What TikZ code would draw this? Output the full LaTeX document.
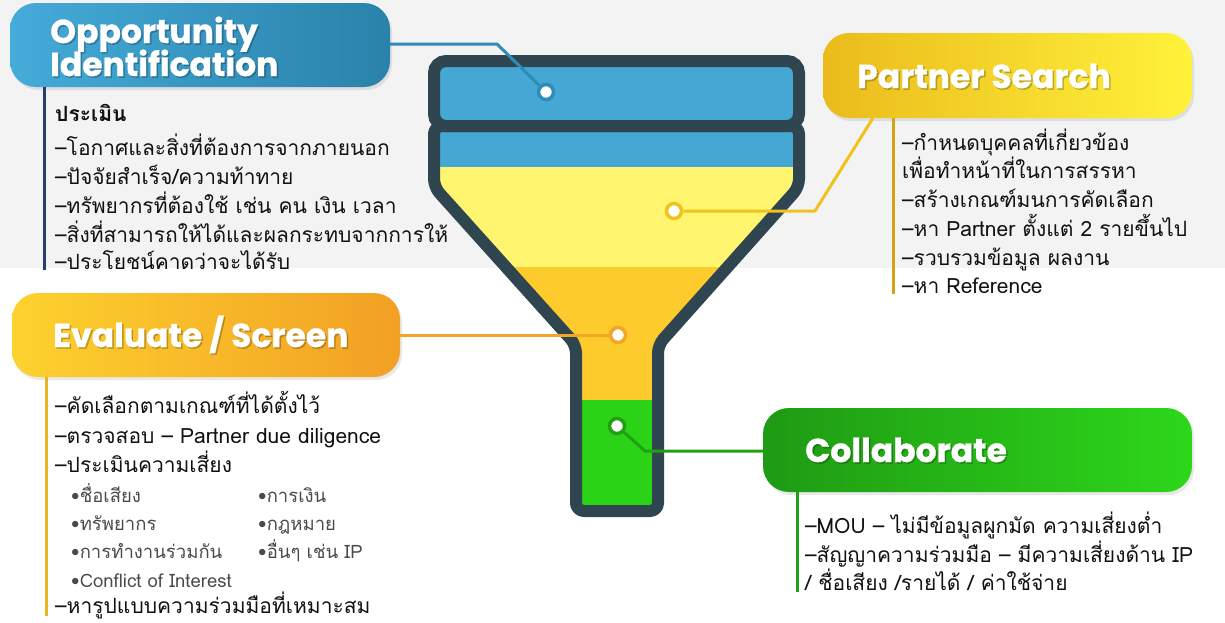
\documentclass[tikz,border=0pt]{standalone}
\usepackage{fontspec}
\newfontfamily\thai[Script=Thai]{Loma}
\newfontfamily\ttl{Poppins}[FakeBold=0.8]
\usetikzlibrary{shadows}
\definecolor{bg}{HTML}{F3F3F3}
\definecolor{outl}{HTML}{2F4650}
\definecolor{fblue}{HTML}{45A8D4}
\definecolor{fyel}{HTML}{FFF56E}
\definecolor{forg}{HTML}{FDCC2C}
\definecolor{fgreen}{HTML}{2BD316}
\definecolor{oppL}{HTML}{45ABD9}
\definecolor{oppM}{HTML}{3A9CC8}
\definecolor{oppR}{HTML}{2A82AA}
\definecolor{parL}{HTML}{EBBB1C}
\definecolor{parM}{HTML}{FCE52E}
\definecolor{parR}{HTML}{FFF23A}
\definecolor{evaL}{HTML}{FDD22E}
\definecolor{evaM}{HTML}{FBC92C}
\definecolor{evaR}{HTML}{F2A024}
\definecolor{colL}{HTML}{1F9A14}
\definecolor{colM}{HTML}{2BCB19}
\definecolor{colR}{HTML}{2DD71A}
\definecolor{blueline}{HTML}{2E8DB8}
\definecolor{yelline}{HTML}{F2C21C}
\definecolor{orgline}{HTML}{F3A626}
\definecolor{grnline}{HTML}{22A015}
\definecolor{navy}{HTML}{283D6A}
\definecolor{gold}{HTML}{D3A413}
\definecolor{evline}{HTML}{E9B622}
\definecolor{txt}{HTML}{111111}
\definecolor{subtxt}{HTML}{4A4A4A}
\tikzset{
  titlebox/.style={rounded corners=26pt, inner sep=0, draw=none,
    drop shadow={opacity=0.18, shadow xshift=2pt, shadow yshift=-3pt}},
  ttlsty/.style={font=\ttl\bfseries\fontsize{33}{36}\selectfont, text=white, inner sep=0, anchor=base west},
  ttlshadow/.style={font=\ttl\bfseries\fontsize{33}{36}\selectfont, text=black, opacity=0.22, inner sep=0, anchor=base west},
  body/.style={font=\thai\fontsize{21}{25}\selectfont, text=txt, inner sep=0, anchor=base west},
  subbody/.style={font=\thai\fontsize{18.5}{22}\selectfont, text=subtxt, inner sep=0, anchor=base west},
  conn/.style={line width=3pt},
  vline/.style={line width=3pt},
  dot/.style={circle, fill=white, draw=#1, line width=3.5pt, minimum size=15pt, inner sep=0},
}
\begin{document}
\begin{tikzpicture}[x=1pt,y=-1pt]
\useasboundingbox (0,0) rectangle (1225,622);
\fill[bg] (0,0) rectangle (1225,268);

% ---------- funnel ----------
\begin{scope}
\clip[rounded corners=8pt] (434,126) -- (799,126) -- (799,187) -- (658,345) -- (658,511) -- (576,511) -- (576,345) -- (434,187) -- cycle;
\fill[fblue] (420,100) rectangle (810,167);
\fill[fyel] (420,167) rectangle (810,267);
\fill[forg] (420,267) rectangle (810,400);
\fill[fgreen] (420,400) rectangle (810,520);
\end{scope}
\draw[outl, line width=12pt, rounded corners=8pt, line join=round] (434,126) -- (799,126) -- (799,187) -- (658,345) -- (658,511) -- (576,511) -- (576,345) -- (434,187) -- cycle;
\fill[fblue, rounded corners=12pt] (434,61) rectangle (799,126);
\draw[outl, line width=12pt, rounded corners=12pt] (434,61) rectangle (799,126);

% ---------- title boxes ----------
\node[titlebox, minimum width=380pt, minimum height=84pt,
  left color=oppL, middle color=oppM, right color=oppR] (opp) at (200,45) {};
\node[titlebox, minimum width=369pt, minimum height=85pt,
  left color=parL, middle color=parM, right color=parR] (par) at (1007.5,75.5) {};
\node[titlebox, minimum width=388pt, minimum height=84pt,
  left color=evaL, middle color=evaM, right color=evaR] (eva) at (206,335) {};
\node[titlebox, minimum width=429pt, minimum height=84pt,
  left color=colL, middle color=colM, right color=colR] (col) at (977.5,450) {};

% titles
\node[ttlshadow] (t1s) at (51.5,44.5) {Opportunity};
\node[ttlsty] (t1) at (50,43) {Opportunity};
\node[ttlshadow] (t2s) at (51.5,77.5) {Identification};
\node[ttlsty] (t2) at (50,76) {Identification};
\node[ttlshadow] (t3s) at (858.5,89.5) {Partner Search};
\node[ttlsty] (t3) at (857,88) {Partner Search};
\node[ttlshadow] (t4s) at (54.5,348.5) {Evaluate / Screen};
\node[ttlsty] (t4) at (53,347) {Evaluate / Screen};
\node[ttlshadow] (t5s) at (806.5,463.5) {Collaborate};
\node[ttlsty] (t5) at (805,462) {Collaborate};

% ---------- vertical lines ----------
\coordinate (ov1) at (44,87);  \coordinate (ov2) at (44,270);
\coordinate (pv1) at (893,118); \coordinate (pv2) at (893,294);
\coordinate (ev1) at (46,377);  \coordinate (ev2) at (46,616);
\coordinate (cv1) at (797,492); \coordinate (cv2) at (797,592);
\draw[vline, navy] (ov1) -- (ov2);
\draw[vline, gold] (pv1) -- (pv2);
\draw[vline, evline] (ev1) -- (ev2);
\draw[vline, grnline] (cv1) -- (cv2);

% ---------- dots & connectors ----------
\node[dot=blueline] (d1) at (546,92) {};
\node[dot=yelline] (d2) at (674,211) {};
\node[dot=orgline] (d3) at (618,335) {};
\node[dot=grnline] (d4) at (617,426) {};
\coordinate (c1) at (497,44);
\coordinate (c2) at (815,211);
\coordinate (p2) at (873,118);
\coordinate (c4) at (645,451);
\draw[conn, blueline, line join=round] (opp.east |- c1) -- (c1) -- (d1);
\draw[conn, yelline, line join=round] (d2) -- (c2) -- (p2);
\draw[conn, orgline] (eva.east) -- (d3);
\draw[conn, grnline, line join=round] (d4) -- (c4) -- (col.west |- c4);

% ---------- texts ----------
\node[body, font=\thai\bfseries\fontsize{21}{25}\selectfont] (o0) at (55,121) {ประเมิน};
\node[body] (o1) at (55,155) {–โอกาศและสิ่งที่ต้องการจากภายนอก};
\node[body] (o2) at (55,184) {–ปัจจัยสำเร็จ/ความท้าทาย};
\node[body] (o3) at (55,213) {–ทรัพยากรที่ต้องใช้ เช่น คน เงิน เวลา};
\node[body] (o4) at (55,242) {–สิ่งที่สามารถให้ได้และผลกระทบจากการให้};
\node[body] (o5) at (55,269) {–ประโยชน์คาดว่าจะได้รับ};

\node[body] (s1) at (902,150) {–กำหนดบุคคลที่เกี่ยวข้อง};
\node[body] (s2) at (902,178) {เพื่อทำหน้าที่ในการสรรหา};
\node[body] (s3) at (902,207) {–สร้างเกณฑ์มนการคัดเลือก};
\node[body] (s4) at (902,236) {–หา Partner ตั้งแต่ 2 รายขึ้นไป};
\node[body] (s5) at (902,265) {–รวบรวมข้อมูล ผลงาน};
\node[body] (s6) at (902,293) {–หา Reference};

\node[body] (e1) at (55,413) {–คัดเลือกตามเกณฑ์ที่ได้ตั้งไว้};
\node[body] (e2) at (55,443) {–ตรวจสอบ – Partner due diligence};
\node[body] (e3) at (55,472) {–ประเมินความเสี่ยง};
\node[subbody] (e4) at (71,502) {•ชื่อเสียง};
\node[subbody] (e5) at (71,530) {•ทรัพยากร};
\node[subbody] (e6) at (71,558) {•การทำงานร่วมกัน};
\node[subbody] (e7) at (71,587) {•Conflict of Interest};
\node[subbody] (e8) at (258,502) {•การเงิน};
\node[subbody] (e9) at (258,530) {•กฎหมาย};
\node[subbody] (e10) at (258,558) {•อื่นๆ เช่น IP};
\node[body] (e11) at (55,613) {–หารูปแบบความร่วมมือที่เหมาะสม};

\node[body] (k1) at (805,533) {–MOU – ไม่มีข้อมูลผูกมัด ความเสี่ยงต่ำ};
\node[body] (k2) at (805,562) {–สัญญาความร่วมมือ – มีความเสี่ยงด้าน IP};
\node[body] (k3) at (805,590) {/ ชื่อเสียง /รายได้ / ค่าใช้จ่าย};
\end{tikzpicture}
\end{document}
